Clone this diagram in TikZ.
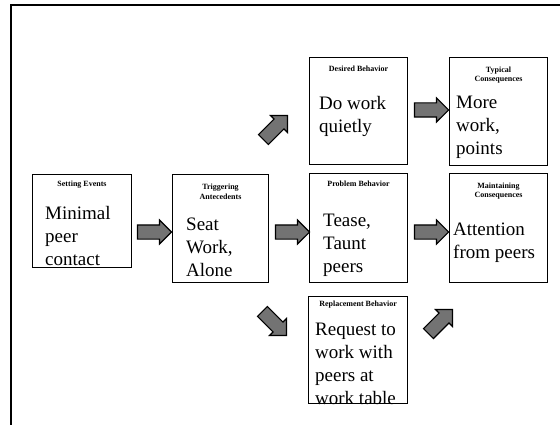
\documentclass[tikz,border=0pt]{standalone}
\usepackage{fontspec}
\setmainfont{Liberation Serif}
\usetikzlibrary{shapes.arrows,calc}

\begin{document}
\begin{tikzpicture}[x=1pt,y=-1pt,
  box/.style={draw,line width=1.1pt,anchor=north west,inner sep=0pt},
  title/.style={font=\fontsize{8}{9.5}\selectfont\bfseries,align=center,inner sep=0pt},
  body/.style={font=\fontsize{19}{23}\selectfont,inner sep=0pt,anchor=base west},
  blockarrow/.style={single arrow,draw,line width=1.1pt,fill=black!55,
    minimum height=34pt,inner xsep=0pt,inner ysep=6.5pt,single arrow head extend=5pt}]
\useasboundingbox (0,0) rectangle (560,425);

% page frame
\draw[line width=1.4pt] (560,5) -- (11,5) -- (11,425);

% boxes
\node[box,minimum width=99pt,minimum height=93pt]  (set)   at (32,174)  {};
\node[box,minimum width=96pt,minimum height=108pt] (trig)  at (172,174) {};
\node[box,minimum width=98pt,minimum height=107pt] (des)   at (309,57)  {};
\node[box,minimum width=98pt,minimum height=108pt] (typ)   at (449,57)  {};
\node[box,minimum width=98pt,minimum height=109pt] (prob)  at (309,173) {};
\node[box,minimum width=98pt,minimum height=109pt] (maint) at (449,173) {};
\node[box,minimum width=99pt,minimum height=107pt] (repl)  at (308,296) {};

% box headings
\node[title] (setT)   at ($(set.north)+(0,11)$)   {Setting Events};
\node[title] (trigT)  at ($(trig.north)+(0,18)$)  {Triggering\\Antecedents};
\node[title] (desT)   at ($(des.north)+(0,12)$)   {Desired Behavior};
\node[title] (typT)   at ($(typ.north)+(0,18)$)   {Typical\\Consequences};
\node[title] (probT)  at ($(prob.north)+(0,11)$)  {Problem Behavior};
\node[title] (maintT) at ($(maint.north)+(0,18)$) {Maintaining\\Consequences};
\node[title] (replT)  at ($(repl.north)+(0,9)$)   {Replacement Behavior};

% box contents
\node[body] (setB)   at (45,219)  {\parbox[t]{90pt}{\raggedright Minimal\\peer\\contact}};
\node[body] (trigB)  at (186,230) {\parbox[t]{90pt}{\raggedright Seat\\Work,\\Alone}};
\node[body] (desB)   at (319,110) {\parbox[t]{90pt}{\raggedright Do work\\quietly}};
\node[body] (typB)   at (456,109) {\parbox[t]{90pt}{\raggedright More\\work,\\points}};
\node[body] (probB)  at (323,226) {\parbox[t]{90pt}{\raggedright Tease,\\Taunt\\peers}};
\node[body] (maintB) at (453,236) {\parbox[t]{100pt}{\raggedright Attention\\from peers}};
\begin{scope}
  \clip (repl.north west) rectangle (repl.south east);
  \node[body] (replB) at (315,335) {\parbox[t]{100pt}{\raggedright Request to\\work with\\peers at\\work table}};
\end{scope}

% block arrows
\node[blockarrow] (a1) at (151,232) {};
\node[blockarrow] (a2) at (289,232) {};
\node[blockarrow] (a3) at (428,232) {};
\node[blockarrow] (a4) at (428,110) {};
\node[blockarrow,rotate=45]  (a5) at (273,130) {};
\node[blockarrow,rotate=-45] (a6) at (272,321) {};
\node[blockarrow,rotate=45]  (a7) at (438,324) {};
\end{tikzpicture}
\end{document}
